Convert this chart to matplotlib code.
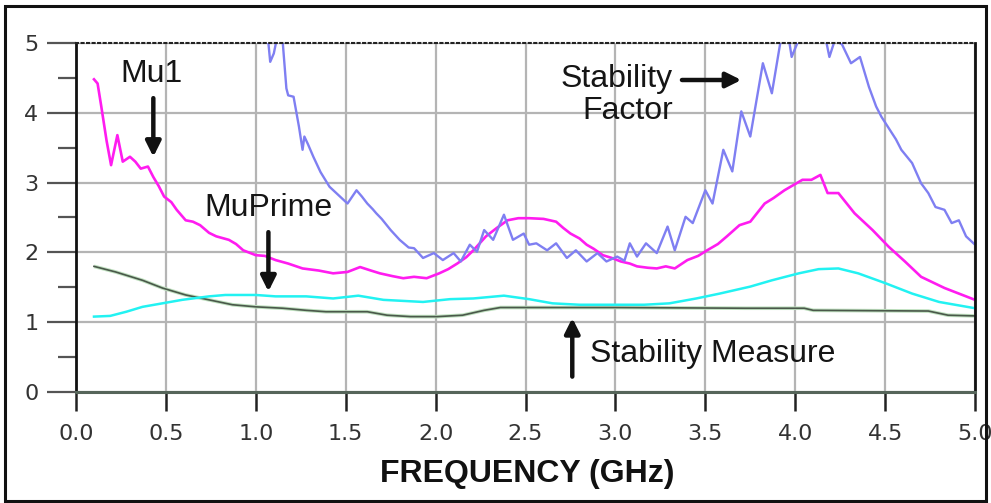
import matplotlib
matplotlib.use("Agg")
import matplotlib.pyplot as plt
from matplotlib.patches import Rectangle

# curves (frequency in GHz, value)
mu1_f = [0.10, 0.12, 0.14, 0.17, 0.195, 0.23, 0.26, 0.30, 0.33, 0.36, 0.40, 0.43, 0.46, 0.49,
         0.53, 0.56, 0.61, 0.65, 0.69, 0.74, 0.78, 0.85, 0.89, 0.93, 1.00, 1.05, 1.11, 1.18,
         1.26, 1.35, 1.43, 1.51, 1.58, 1.64, 1.69, 1.76, 1.82, 1.88, 1.95, 2.02, 2.07, 2.12,
         2.17, 2.21, 2.28, 2.34, 2.40, 2.46, 2.52, 2.60, 2.67, 2.71, 2.75, 2.80, 2.84, 2.88,
         2.93, 2.98, 3.03, 3.08, 3.12, 3.18, 3.23, 3.28, 3.33, 3.40, 3.46, 3.51, 3.57, 3.62,
         3.69, 3.75, 3.83, 3.88, 3.94, 4.04, 4.09, 4.14, 4.18, 4.24, 4.33, 4.43, 4.52, 4.61,
         4.70, 4.83, 4.92, 5.00]
mu1_v = [4.48, 4.42, 4.10, 3.60, 3.25, 3.68, 3.30, 3.37, 3.30, 3.20, 3.23, 3.08, 2.95, 2.80,
         2.72, 2.61, 2.46, 2.44, 2.39, 2.28, 2.23, 2.18, 2.12, 2.03, 1.96, 1.95, 1.89, 1.84,
         1.77, 1.74, 1.70, 1.72, 1.79, 1.74, 1.70, 1.66, 1.63, 1.65, 1.63, 1.70, 1.76, 1.84,
         1.93, 2.03, 2.23, 2.35, 2.46, 2.49, 2.49, 2.48, 2.44, 2.35, 2.27, 2.20, 2.11, 2.05,
         1.96, 1.92, 1.87, 1.84, 1.80, 1.78, 1.77, 1.80, 1.77, 1.89, 1.95, 2.03, 2.12, 2.23,
         2.39, 2.44, 2.70, 2.78, 2.89, 3.04, 3.04, 3.11, 2.85, 2.85, 2.56, 2.32, 2.08, 1.87,
         1.65, 1.49, 1.40, 1.32]

sf_f = [1.05, 1.07, 1.08, 1.10, 1.12, 1.15, 1.17, 1.18, 1.21, 1.24, 1.26, 1.27, 1.29, 1.32,
        1.36, 1.41, 1.46, 1.51, 1.56, 1.59, 1.62, 1.65, 1.67, 1.70, 1.75, 1.80, 1.85, 1.88,
        1.93, 1.99, 2.04, 2.10, 2.14, 2.19, 2.23, 2.27, 2.32, 2.38, 2.43, 2.49, 2.52, 2.56,
        2.62, 2.67, 2.73, 2.78, 2.84, 2.90, 2.95, 3.01, 3.05, 3.08, 3.12, 3.17, 3.23, 3.29,
        3.33, 3.39, 3.43, 3.50, 3.54, 3.60, 3.65, 3.70, 3.75, 3.82, 3.87, 3.92, 3.95, 3.98,
        4.02, 4.08, 4.14, 4.17, 4.19, 4.22, 4.26, 4.31, 4.36, 4.41, 4.45, 4.48, 4.52, 4.56,
        4.59, 4.65, 4.70, 4.74, 4.78, 4.83, 4.87, 4.91, 4.95, 5.00]
sf_v = [5.40, 5.00, 4.73, 4.85, 5.10, 5.00, 4.35, 4.25, 4.23, 3.80, 3.47, 3.66, 3.55, 3.37,
        3.15, 2.94, 2.82, 2.70, 2.89, 2.80, 2.70, 2.62, 2.56, 2.48, 2.32, 2.18, 2.07, 2.06,
        1.92, 1.99, 1.89, 1.99, 1.87, 2.11, 2.01, 2.32, 2.18, 2.54, 2.18, 2.27, 2.11, 2.13,
        2.03, 2.13, 1.92, 2.03, 1.87, 1.99, 1.87, 1.94, 1.88, 2.13, 1.94, 2.13, 1.99, 2.37,
        2.03, 2.51, 2.42, 2.89, 2.70, 3.47, 3.16, 4.02, 3.66, 4.71, 4.28, 5.05, 5.30, 4.80,
        5.05, 5.60, 5.40, 5.05, 4.80, 5.04, 4.98, 4.71, 4.80, 4.37, 4.09, 3.94, 3.78, 3.62,
        3.47, 3.28, 2.99, 2.85, 2.65, 2.61, 2.42, 2.46, 2.23, 2.11]

mup_f = [0.10, 0.19, 0.28, 0.37, 0.48, 0.59, 0.74, 0.83, 1.00, 1.11, 1.28, 1.43, 1.57, 1.71,
         1.93, 2.08, 2.21, 2.38, 2.52, 2.65, 2.80, 3.03, 3.16, 3.30, 3.45, 3.58, 3.75, 3.87,
         4.02, 4.13, 4.24, 4.35, 4.50, 4.65, 4.80, 5.00]
mup_v = [1.08, 1.09, 1.15, 1.22, 1.27, 1.32, 1.37, 1.39, 1.39, 1.37, 1.37, 1.34, 1.38, 1.32,
         1.29, 1.33, 1.34, 1.38, 1.33, 1.27, 1.25, 1.25, 1.25, 1.27, 1.34, 1.41, 1.51, 1.60,
         1.70, 1.76, 1.77, 1.70, 1.56, 1.41, 1.29, 1.20]

sm_f = [0.10, 0.22, 0.37, 0.48, 0.61, 0.74, 0.87, 1.00, 1.15, 1.28, 1.39, 1.62, 1.73, 1.86,
        2.01, 2.15, 2.27, 2.36, 2.52, 3.00, 3.72, 4.05, 4.10, 4.74, 4.85, 5.00]
sm_v = [1.80, 1.72, 1.60, 1.49, 1.39, 1.32, 1.25, 1.22, 1.20, 1.17, 1.15, 1.15, 1.10, 1.08,
        1.08, 1.10, 1.17, 1.21, 1.21, 1.21, 1.20, 1.20, 1.17, 1.16, 1.10, 1.09]

x_ticks = [0.0, 0.5, 1.0, 1.5, 2.0, 2.5, 3.0, 3.5, 4.0, 4.5, 5.0]
y_ticks = [0, 1, 2, 3, 4, 5]

fig = plt.figure(figsize=(9.91, 5.03), dpi=100)
ax = fig.add_axes([0.0767, 0.2207, 0.9072, 0.6938])

ax.plot(sm_f, sm_v, color="#bfe0bf", lw=2.6, solid_capstyle="butt")
ax.plot(sm_f, sm_v, color="#4a584a", lw=1.2)
ax.plot(mup_f, mup_v, color="#22f2f2", lw=1.8)
ax.plot(mu1_f, mu1_v, color="#ff1cf0", lw=1.9)
ax.plot(sf_f, sf_v, color="#7f7ff2", lw=1.7)

ax.set_xlim(0, 5)
ax.set_ylim(0, 5)
ax.set_xticks(x_ticks)
ax.set_xticklabels(["%.1f" % t for t in x_ticks])
ax.set_yticks(y_ticks)
ax.set_yticks([0.5, 1.5, 2.5, 3.5, 4.5], minor=True)
ax.grid(True, color="#b4b4b4", lw=1.6)
ax.set_axisbelow(True)

ax.tick_params(axis="x", length=14, width=1.8, color="#222", pad=9,
               labelsize=16, labelcolor="#333")
ax.tick_params(axis="y", which="major", length=21, width=1.6, color="#555",
               pad=6, labelsize=16, labelcolor="#333")
ax.tick_params(axis="y", which="minor", length=13, width=1.6, color="#555")
for lab in ax.get_xticklabels() + ax.get_yticklabels():
    lab.set_family("DejaVu Sans")

ax.spines["left"].set_linewidth(2)
ax.spines["left"].set_color("#111")
ax.spines["right"].set_linewidth(2)
ax.spines["right"].set_color("#111")
ax.spines["top"].set_linewidth(1.5)
ax.spines["top"].set_linestyle(":")
ax.spines["top"].set_color("#222")
ax.spines["bottom"].set_linewidth(2.2)
ax.spines["bottom"].set_color("#56655a")

fig.text(0.532, 0.058, "FREQUENCY (GHz)", ha="center", va="center",
         fontsize=23, fontweight="bold", family="Liberation Sans", color="#111")

lbl = dict(family="Liberation Sans", fontsize=23, color="#151515")
arr = dict(arrowstyle="-|>,head_width=0.45,head_length=0.9", lw=3.2,
           color="#111", shrinkA=0, shrinkB=0)

ax.text(0.42, 4.56, "Mu1", ha="center", va="center", **lbl)
ax.annotate("", xy=(0.43, 3.37), xytext=(0.43, 4.21), arrowprops=arr)

ax.text(1.07, 2.64, "MuPrime", ha="center", va="center", **lbl)
ax.annotate("", xy=(1.07, 1.44), xytext=(1.07, 2.29), arrowprops=arr)

ax.text(3.32, 4.26, "Stability\nFactor", ha="right", va="center",
        multialignment="right", linespacing=1.1, **lbl)
ax.annotate("", xy=(3.70, 4.47), xytext=(3.37, 4.47), arrowprops=arr)

ax.text(2.86, 0.55, "Stability Measure", ha="left", va="center", **lbl)
ax.annotate("", xy=(2.76, 1.06), xytext=(2.76, 0.22), arrowprops=arr)

fig.patches.append(Rectangle((0.005, 0.004), 0.99, 0.984, transform=fig.transFigure,
                             fill=False, lw=2.2, edgecolor="#111"))

fig.savefig("out.png", dpi=100)
